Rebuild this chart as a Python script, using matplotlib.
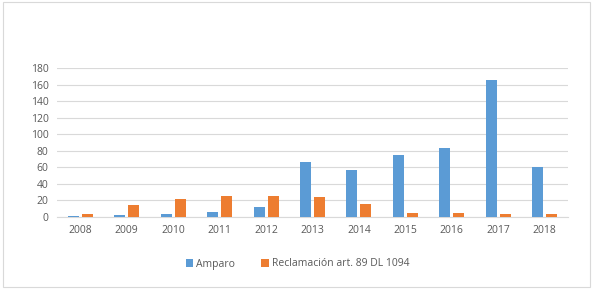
import numpy as np
import matplotlib.pyplot as plt
from matplotlib.patches import Rectangle

years = ['2008', '2009', '2010', '2011', '2012', '2013', '2014', '2015', '2016', '2017', '2018']
amparo = [1.5, 3, 4, 6, 12, 67, 57, 75, 83, 166, 60]
reclamacion = [4, 14, 22, 26, 25, 24, 16, 5, 5, 4, 4]

plt.rcParams['font.family'] = ['Open Sans', 'DejaVu Sans']

fig = plt.figure(figsize=(5.95, 2.89), dpi=100)
ax = fig.add_axes([57 / 595, 1 - 217 / 289, (568 - 57) / 595, (217 - 68.3) / 289])

x = np.arange(len(years))
w = 0.237
gap = 0.065
ax.bar(x - (w + gap) / 2, amparo, w, color='#5B9BD5', label='Amparo', zorder=3)
ax.bar(x + (w + gap) / 2, reclamacion, w, color='#ED7D31', label='Reclamación art. 89 DL 1094', zorder=3)

ax.set_xlim(-0.5, len(years) - 0.5)
ax.set_ylim(0, 180)
ax.set_yticks(range(0, 181, 20))
ax.set_xticks(x)
ax.set_xticklabels(years)
ax.grid(axis='y', color='#D9D9D9', linewidth=0.8, zorder=0)
for s in ['top', 'right', 'left']:
    ax.spines[s].set_visible(False)
ax.spines['bottom'].set_color('#D9D9D9')
ax.tick_params(length=0, labelsize=7.5, labelcolor='#595959')
ax.tick_params(axis='y', pad=6)
ax.tick_params(axis='x', pad=6)

fig.legend(loc='center', bbox_to_anchor=(0.5, 1 - 264 / 289), ncol=2, frameon=False,
           fontsize=7.5, handlelength=0.7, handleheight=0.7, handletextpad=0.3,
           columnspacing=2.5, labelcolor='#595959')

fig.patches.append(Rectangle((3 / 595, 2 / 289), 587 / 595, 285 / 289, transform=fig.transFigure,
                             fill=False, edgecolor='#D9D9D9', linewidth=0.8))

fig.savefig('out.png', dpi=100)
